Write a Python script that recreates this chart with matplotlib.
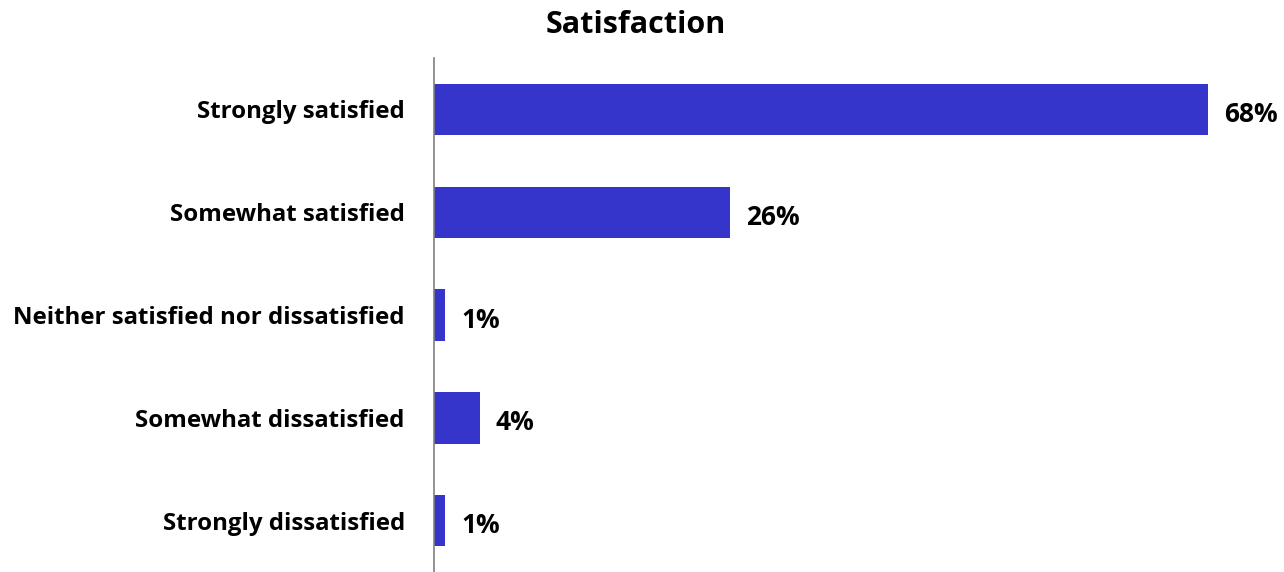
import matplotlib.pyplot as plt

categories = ["Strongly satisfied", "Somewhat satisfied",
              "Neither satisfied nor dissatisfied", "Somewhat dissatisfied",
              "Strongly dissatisfied"]
values = [68, 26, 1, 4, 1]
labels = ["68%", "26%", "1%", "4%", "1%"]

plt.rcParams['font.family'] = ['Open Sans', 'DejaVu Sans']

fig = plt.figure(figsize=(12.84, 5.72), dpi=100)
ax = fig.add_axes([434 / 1284, 0.0, 1 - 434 / 1284, (572 - 58) / 572])

ypos = range(len(categories))
ax.barh(ypos, values, height=0.5, color='#3535CC')
for y, v, lab in zip(ypos, values, labels):
    ax.text(v + 1.4, y + 0.05, lab, va='center', ha='left',
            fontsize=19, fontweight='bold')

ax.set_ylim(4.5, -0.5)
ax.set_xlim(0, 74.7)
ax.set_yticks(list(ypos))
ax.set_yticklabels(categories, fontsize=17.3, fontweight='bold')
ax.tick_params(axis='y', length=0, pad=21)
ax.set_xticks([])
for side in ['top', 'right', 'bottom']:
    ax.spines[side].set_visible(False)
ax.spines['left'].set_color('#808080')
ax.spines['left'].set_linewidth(1.2)

fig.text(636 / 1284, 1 - 25 / 572, "Satisfaction", ha='center', va='center',
         fontsize=22, fontweight='bold')

fig.savefig('out.png', dpi=100)
